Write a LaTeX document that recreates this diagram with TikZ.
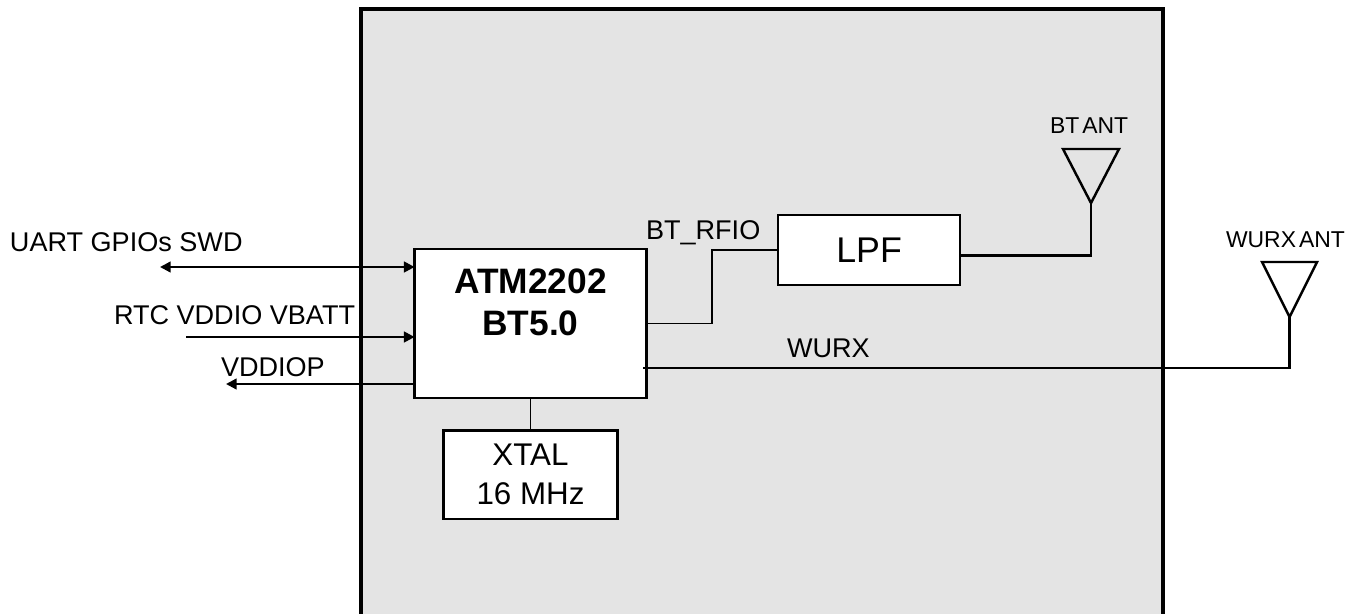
\documentclass[tikz,border=0pt]{standalone}
\usepackage{fontspec}
\setmainfont{Liberation Sans}
\usetikzlibrary{arrows.meta,positioning,calc}
\definecolor{chipFill}{HTML}{E4E4E4}
\tikzset{
  box/.style    ={draw=black, fill=white, align=center, inner sep=2pt, outer sep=0pt, line width=0.65mm},
  label/.style  ={anchor=base west, inner sep=0pt, outer sep=0pt, font=\fontsize{20.3}{24}\selectfont},
  small/.style  ={label, font=\fontsize{17.2}{22}\selectfont},
  wire/.style   ={line width=0.7mm},
  rfwire/.style ={line width=0.5mm},
  thinwire/.style={line width=0.35mm},
  arr/.style    ={-{Triangle[length=2.8mm,width=2.8mm]}, line width=0.6mm},
  biarr/.style  ={{Triangle[length=2.8mm,width=2.8mm]}-{Triangle[length=2.8mm,width=2.8mm]}, line width=0.6mm},
  ant/.style    ={line width=0.65mm, line join=miter},
}
\begin{document}
\begin{tikzpicture}[x=0.75pt,y=-0.75pt]
  \useasboundingbox (0,0) rectangle (1361,614);
  % module outline, open at the bottom
  \fill[chipFill] (361,9) rectangle (1163,614);
  \draw[line width=0.95mm, line join=miter] (361,614) -- (361,9) -- (1163,9) -- (1163,614);
  % blocks
  \node[box, minimum width=61.1mm, minimum height=39.4mm, font=\fontsize{26.5}{32}\selectfont\bfseries]
        (chip) at (530.5,323.5) {ATM2202\\BT5.0\\\mbox{}};
  \node[box, below=8.5mm of chip, minimum width=45.8mm, minimum height=23.3mm, font=\fontsize{23.5}{29}\selectfont]
        (xtal) {XTAL\\16 MHz};
  \node[box, right=34.7mm of chip, yshift=19.4mm, minimum width=48mm, minimum height=18.5mm, font=\fontsize{26.8}{30}\selectfont]
        (lpf) {\raisebox{-2pt}{LPF}};
  % free ends
  \coordinate (uart)  at (160,267);
  \coordinate (rtc)   at (186,337);
  \coordinate (vddp)  at (226,384);
  \coordinate (btant) at (1091,203);
  \coordinate (wuant) at (1289.5,317);
  \coordinate (wustart) at (643,368);
  \coordinate (wupin)   at (1160,368);

  \draw[biarr] (uart) -- (uart -| chip.west);
  \draw[arr] (rtc) -- (rtc -| chip.west);
  \draw[arr] (vddp -| chip.west) -- (vddp);
  \draw[rfwire] (chip) -- (xtal);
  \draw[rfwire] (chip.east) -- ++(66,0) |- (lpf.west);
  \draw[wire] ([yshift=-1.4mm]lpf.east) -| (btant);
  \draw[thinwire] (wustart) -- (wupin);
  \draw[wire] (wupin) -| (wuant);
  % antennas
  \draw[ant] (btant) -- ++(-28,-54) -- ++(56,0) -- cycle;
  \draw[ant] (wuant) -- ++(-27.5,-55) -- ++(55,0) -- cycle;
  % labels
  \node[label] (uartlbl) at (10,251.5) {UART GPIOs SWD};
  \node[label] (rtclbl)  at (114,324) {RTC VDDIO VBATT};
  \node[label] (vddlbl)  at (221,376) {VDDIOP};
  \node[label] (rfiolbl) at (646,239) {BT\_RFIO};
  \node[label] (wulbl)   at (787,357) {WURX};
  \node[small] (btlbl)   at (1050,133) {BT\hspace{-2.5pt} ANT};
  \node[small] (walbl)   at (1226,247) {WURX\hspace{-2.5pt} ANT};
\end{tikzpicture}
\end{document}
